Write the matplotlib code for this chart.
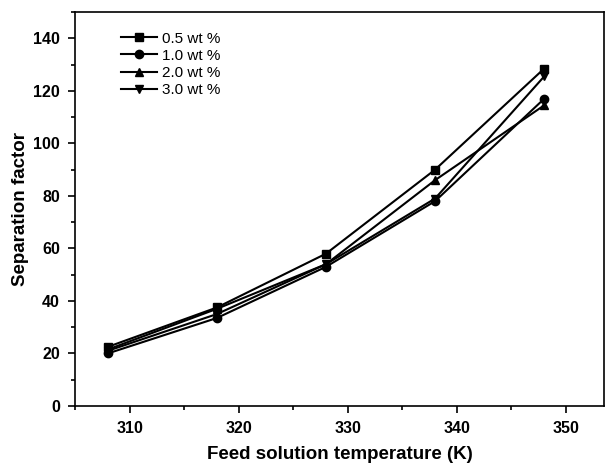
import matplotlib
matplotlib.use('Agg')
import matplotlib.pyplot as plt
from matplotlib.ticker import MultipleLocator

plt.rcParams['font.family'] = ['Liberation Sans', 'DejaVu Sans']

# data
temps = [308, 318, 328, 338, 348]
sf_05 = [22.5, 37.5, 58, 90, 128.5]
sf_10 = [20, 33.5, 53, 78, 117]
sf_20 = [21.5, 37, 54, 86, 114.5]
sf_30 = [21, 35, 54, 79, 125.5]

labels = ['0.5 wt %', '1.0 wt %', '2.0 wt %', '3.0 wt %']
markers = ['s', 'o', '^', 'v']

fig = plt.figure(figsize=(6.06, 4.65), dpi=100)
ax = fig.add_axes([0.124, 0.127, 0.873, 0.847])

for ys, lab, m in zip([sf_05, sf_10, sf_20, sf_30], labels, markers):
    ax.plot(temps, ys, color='black', marker=m, markersize=6, linewidth=1.5, label=lab)

ax.set_xlim(305, 353.5)
ax.set_ylim(0, 150)
ax.xaxis.set_major_locator(MultipleLocator(10))
ax.xaxis.set_minor_locator(MultipleLocator(5))
ax.yaxis.set_major_locator(MultipleLocator(20))
ax.yaxis.set_minor_locator(MultipleLocator(10))
ax.tick_params(which='both', direction='out', width=1.2)
ax.tick_params(which='major', length=5, labelsize=11.5, pad=6)
ax.tick_params(which='minor', length=3)
for lbl in ax.get_xticklabels() + ax.get_yticklabels():
    lbl.set_fontweight('bold')
for s in ax.spines.values():
    s.set_linewidth(1.2)

ax.set_xlabel('Feed solution temperature (K)', fontsize=13.5, fontweight='bold', labelpad=7)
ax.set_ylabel('Separation factor', fontsize=13.5, fontweight='bold', labelpad=3)

ax.legend(loc='upper left', bbox_to_anchor=(0.06, 0.985), frameon=False,
          fontsize=11, handlelength=2.4, handletextpad=0.3, labelspacing=0.2)

fig.savefig('out.png', dpi=100)
